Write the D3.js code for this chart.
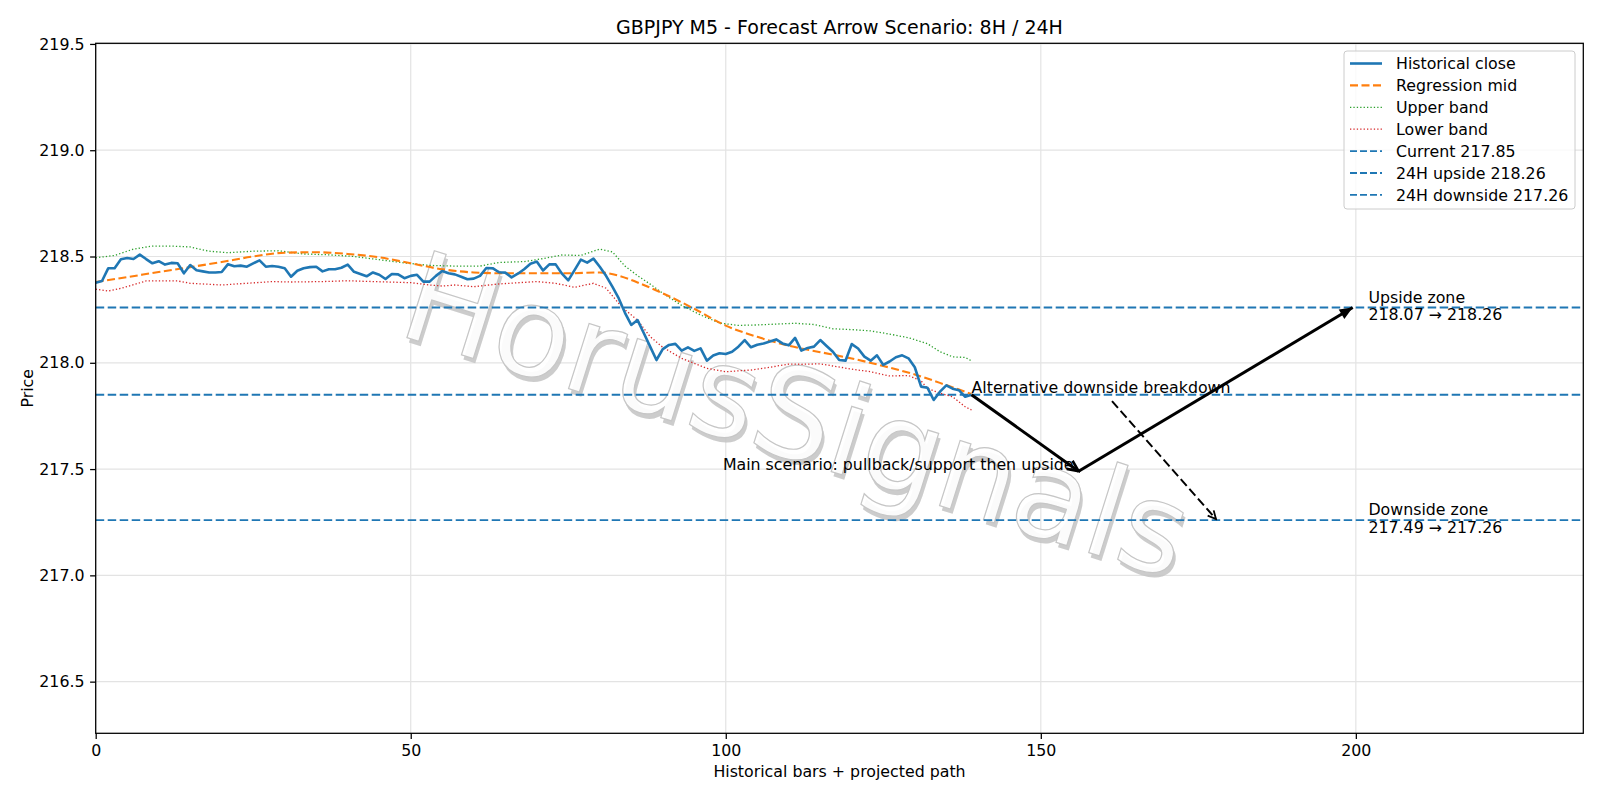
<!DOCTYPE html>
<html>
<head>
<meta charset="utf-8">
<script src="https://cdn.jsdelivr.net/npm/d3@7"></script>
<style>
  body { margin: 0; background: #fff; }
  text { font-family: "DejaVu Sans", sans-serif; }
</style>
</head>
<body>
<svg id="chart" width="1600" height="800"></svg>
<script>
// ---------------- DATA ----------------
const titleText = "GBPJPY M5 - Forecast Arrow Scenario: 8H / 24H";
const xLabel = "Historical bars + projected path";
const yLabel = "Price";

const closeValues = [
  218.377, 218.385, 218.445, 218.445, 218.487, 218.493, 218.488, 218.509, 218.488, 218.468,
  218.478, 218.462, 218.470, 218.468, 218.421, 218.460, 218.435, 218.430, 218.425, 218.425,
  218.427, 218.464, 218.454, 218.457, 218.452, 218.468, 218.482, 218.452, 218.455, 218.452,
  218.445, 218.405, 218.433, 218.445, 218.450, 218.452, 218.430, 218.440, 218.440, 218.447,
  218.462, 218.428, 218.418, 218.407, 218.425, 218.414, 218.394, 218.418, 218.416, 218.398,
  218.409, 218.414, 218.382, 218.382, 218.409, 218.432, 218.421, 218.416, 218.405, 218.393,
  218.396, 218.409, 218.446, 218.445, 218.426, 218.424, 218.402, 218.419, 218.440, 218.466,
  218.476, 218.434, 218.463, 218.463, 218.419, 218.388, 218.436, 218.485, 218.471, 218.490,
  218.452, 218.409, 218.358, 218.304, 218.235, 218.178, 218.201, 218.139, 218.076, 218.013,
  218.064, 218.084, 218.089, 218.057, 218.073, 218.056, 218.068, 218.010, 218.034, 218.045,
  218.041, 218.052, 218.076, 218.107, 218.073, 218.085, 218.091, 218.100, 218.110, 218.091,
  218.082, 218.117, 218.057, 218.070, 218.076, 218.107, 218.079, 218.052, 218.013, 218.010,
  218.088, 218.067, 218.029, 218.010, 218.035, 217.990, 218.006, 218.026, 218.035, 218.021,
  217.979, 217.888, 217.883, 217.825, 217.864, 217.894, 217.878, 217.871, 217.840, 217.850
];

const midBars = [0, 5, 10, 15, 20, 25, 30, 35, 40, 45, 50, 55, 60, 65, 70, 75, 80, 83, 86, 90, 95, 100, 105, 110, 115, 120, 125, 130, 135, 139];
const midValues = [218.380, 218.403, 218.427, 218.450, 218.474, 218.500, 218.518, 218.520, 218.512, 218.496,
  218.468, 218.440, 218.425, 218.421, 218.421, 218.421, 218.425, 218.410, 218.378, 218.327,
  218.254, 218.175, 218.122, 218.080, 218.050, 218.020, 217.985, 217.945, 217.895, 217.853];

const upperBars = [0, 3, 6, 9, 12, 15, 18, 21, 25, 29, 33, 37, 41, 45, 49, 53, 57, 61, 64, 68, 71, 74, 77, 80, 82, 84, 86, 88, 90, 93, 96, 99, 102, 105, 108, 111, 114, 117, 120, 123, 126, 129, 132, 134, 136, 138, 139];
const upperValues = [218.494, 218.505, 218.535, 218.549, 218.549, 218.545, 218.525, 218.518, 218.525, 218.527,
  218.512, 218.508, 218.500, 218.485, 218.470, 218.458, 218.455, 218.455, 218.472, 218.476,
  218.490, 218.507, 218.505, 218.535, 218.522, 218.455, 218.410, 218.370, 218.327, 218.270,
  218.225, 218.187, 218.176, 218.178, 218.182, 218.186, 218.180, 218.160, 218.156, 218.150,
  218.135, 218.118, 218.090, 218.052, 218.028, 218.025, 218.009];

const lowerBars = [0, 2, 4, 8, 13, 15, 20, 24, 28, 31, 36, 40, 44, 50, 53, 55, 57, 60, 64, 70, 73, 76, 79, 81, 83, 84, 86, 88, 90, 93, 97, 100, 104, 107, 110, 112, 115, 120, 123, 126, 129, 131, 132, 134, 136, 138, 139];
const lowerValues = [218.346, 218.338, 218.350, 218.385, 218.385, 218.374, 218.366, 218.374, 218.382, 218.380,
  218.382, 218.386, 218.382, 218.377, 218.366, 218.361, 218.366, 218.358, 218.371, 218.382,
  218.374, 218.355, 218.374, 218.351, 218.280, 218.250, 218.200, 218.123, 218.073, 218.021,
  217.974, 217.958, 217.966, 217.979, 217.994, 217.993, 217.995, 217.970, 217.958, 217.938,
  217.940, 217.915, 217.880, 217.857, 217.840, 217.793, 217.778];

const levelNames = ["Current 217.85", "24H upside 218.26", "24H downside 217.26"];
const levelValues = [217.85, 218.26, 217.26];

// projected scenario path (bar, price)
const mainPathBars = [139, 156, 199.5];
const mainPathPrices = [217.85, 217.49, 218.26];
const altPathBars = [161.3, 177.8];
const altPathPrices = [217.82, 217.265];

const mainLabel = "Main scenario: pullback/support then upside";
const mainLabelPos = [155.2, 217.49];
const altLabel = "Alternative downside breakdown";
const altLabelPos = [139, 217.85];
const zoneLabelBar = 202;
const upsideZoneLines = ["Upside zone", "218.07 \u2192 218.26"];
const downsideZoneLines = ["Downside zone", "217.49 \u2192 217.26"];

const xTicks = [0, 50, 100, 150, 200];
const yTicks = [216.5, 217.0, 217.5, 218.0, 218.5, 219.0, 219.5];
const xDomain = [0, 236.1];
const yDomain = [216.257, 219.503];

const legendLabels = ["Historical close", "Regression mid", "Upper band", "Lower band"].concat(levelNames);
const watermarkText = "HorusSignals";

// ---------------- LAYOUT ----------------
const C = { blue: "#1f77b4", orange: "#ff7f0e", green: "#2ca02c", red: "#d62728" };
const FS = 15.8;
const plot = { left: 95.7, right: 1583.3, top: 43.3, bottom: 733.3 };
const svg = d3.select("#chart");

const x = d3.scaleLinear().domain(xDomain).range([plot.left, plot.right]);
const y = d3.scaleLinear().domain(yDomain).range([plot.bottom, plot.top]);

const defs = svg.append("defs");
defs.append("clipPath").attr("id", "clip").append("rect")
  .attr("x", plot.left).attr("y", plot.top)
  .attr("width", plot.right - plot.left).attr("height", plot.bottom - plot.top);

defs.append("marker").attr("id", "openHead").attr("markerUnits", "userSpaceOnUse")
  .attr("viewBox", "-14 -8 16 16").attr("markerWidth", 16).attr("markerHeight", 16)
  .attr("refX", 0).attr("refY", 0).attr("orient", "auto")
  .append("path").attr("d", "M-11,-5 L0,0 L-11,5").attr("fill", "none")
  .attr("stroke", "#000").attr("stroke-width", 2.6);
defs.append("marker").attr("id", "openHeadSmall").attr("markerUnits", "userSpaceOnUse")
  .attr("viewBox", "-14 -8 16 16").attr("markerWidth", 16).attr("markerHeight", 16)
  .attr("refX", 0).attr("refY", 0).attr("orient", "auto")
  .append("path").attr("d", "M-8,-4 L0,0 L-8,4").attr("fill", "none")
  .attr("stroke", "#000").attr("stroke-width", 1.8);
defs.append("marker").attr("id", "fillHead").attr("markerUnits", "userSpaceOnUse")
  .attr("viewBox", "-16 -8 18 16").attr("markerWidth", 18).attr("markerHeight", 16)
  .attr("refX", 0).attr("refY", 0).attr("orient", "auto")
  .append("path").attr("d", "M-13,-5.5 L0,0 L-13,5.5 Z").attr("fill", "#000");

// grid
const grid = svg.append("g");
grid.selectAll(".gx").data(xTicks).join("line")
  .attr("x1", d => x(d)).attr("x2", d => x(d))
  .attr("y1", plot.top).attr("y2", plot.bottom)
  .attr("stroke", "#e3e3e3").attr("stroke-width", 1.2);
grid.selectAll(".gy").data(yTicks).join("line")
  .attr("x1", plot.left).attr("x2", plot.right)
  .attr("y1", d => y(d)).attr("y2", d => y(d))
  .attr("stroke", "#e3e3e3").attr("stroke-width", 1.2);

// watermark
const wm = svg.append("g").attr("transform", "translate(797,415) rotate(17.5)");
wm.append("text").text(watermarkText)
  .attr("x", 3.5).attr("y", 4)
  .attr("text-anchor", "middle").attr("dominant-baseline", "central")
  .attr("font-size", 125).attr("fill", "#c4c4c4").attr("opacity", 0.85);
wm.append("text").text(watermarkText)
  .attr("text-anchor", "middle").attr("dominant-baseline", "central")
  .attr("font-size", 125).attr("fill", "#ffffff").attr("fill-opacity", 0.92)
  .attr("stroke", "#c6c6c6").attr("stroke-width", 1.2);

const g = svg.append("g").attr("clip-path", "url(#clip)");

// horizontal levels
g.selectAll(".lvl").data(levelValues).join("line")
  .attr("x1", plot.left).attr("x2", plot.right)
  .attr("y1", d => y(d)).attr("y2", d => y(d))
  .attr("stroke", C.blue).attr("stroke-width", 1.9).attr("stroke-dasharray", "8.5,3.5");

// bands
const bandLine = d3.line().x(d => x(d[0])).y(d => y(d[1]));
g.append("path").datum(upperBars.map((b, i) => [b, upperValues[i]]))
  .attr("d", bandLine).attr("fill", "none").attr("stroke", C.green)
  .attr("stroke-width", 1.3).attr("stroke-dasharray", "1.3,2.1");
g.append("path").datum(lowerBars.map((b, i) => [b, lowerValues[i]]))
  .attr("d", bandLine).attr("fill", "none").attr("stroke", C.red)
  .attr("stroke-width", 1.3).attr("stroke-dasharray", "1.3,2.1");
g.append("path").datum(midBars.map((b, i) => [b, midValues[i]]))
  .attr("d", d3.line().x(d => x(d[0])).y(d => y(d[1])).curve(d3.curveMonotoneX))
  .attr("fill", "none").attr("stroke", C.orange)
  .attr("stroke-width", 2.1).attr("stroke-dasharray", "8,3.5");

// close
g.append("path").datum(closeValues)
  .attr("d", d3.line().x((d, i) => x(i)).y(d => y(d)))
  .attr("fill", "none").attr("stroke", C.blue).attr("stroke-width", 2.6)
  .attr("stroke-linejoin", "round");

// arrows
const ann = svg.append("g");
ann.append("line")
  .attr("x1", x(mainPathBars[0])).attr("y1", y(mainPathPrices[0]))
  .attr("x2", x(mainPathBars[1])).attr("y2", y(mainPathPrices[1]))
  .attr("stroke", "#000").attr("stroke-width", 3).attr("marker-end", "url(#openHead)");
ann.append("line")
  .attr("x1", x(mainPathBars[1])).attr("y1", y(mainPathPrices[1]))
  .attr("x2", x(mainPathBars[2])).attr("y2", y(mainPathPrices[2]))
  .attr("stroke", "#000").attr("stroke-width", 3).attr("marker-end", "url(#fillHead)");
ann.append("line")
  .attr("x1", x(altPathBars[0])).attr("y1", y(altPathPrices[0]))
  .attr("x2", x(altPathBars[1])).attr("y2", y(altPathPrices[1]))
  .attr("stroke", "#000").attr("stroke-width", 2).attr("stroke-dasharray", "9,4")
  .attr("marker-end", "url(#openHeadSmall)");

ann.append("text").text(mainLabel)
  .attr("x", x(mainLabelPos[0])).attr("y", y(mainLabelPos[1]) - 1.5)
  .attr("text-anchor", "end").attr("font-size", FS).attr("fill", "#000");
ann.append("text").text(altLabel)
  .attr("x", x(altLabelPos[0])).attr("y", y(altLabelPos[1]) - 1.5)
  .attr("text-anchor", "start").attr("font-size", FS).attr("fill", "#000");

function zoneLabel(lines, price) {
  const t = ann.append("text").attr("font-size", FS).attr("fill", "#000");
  lines.forEach((s, i) => {
    t.append("tspan").attr("x", x(zoneLabelBar)).attr("y", y(price) - 5 + i * 17.5).text(s);
  });
}
zoneLabel(upsideZoneLines, levelValues[1]);
zoneLabel(downsideZoneLines, levelValues[2]);

// frame
svg.append("rect").attr("x", plot.left).attr("y", plot.top)
  .attr("width", plot.right - plot.left).attr("height", plot.bottom - plot.top)
  .attr("fill", "none").attr("stroke", "#000").attr("stroke-width", 1.27);

// axes
const xAxis = svg.append("g").attr("transform", `translate(0,${plot.bottom})`)
  .call(d3.axisBottom(x).tickValues(xTicks).tickFormat(d3.format("d")).tickSize(5.6).tickPadding(5.6));
const yAxis = svg.append("g").attr("transform", `translate(${plot.left},0)`)
  .call(d3.axisLeft(y).tickValues(yTicks).tickFormat(d3.format(".1f")).tickSize(5.6).tickPadding(5.6));
[xAxis, yAxis].forEach(a => {
  a.select(".domain").remove();
  a.selectAll("line").attr("stroke", "#000").attr("stroke-width", 1.27);
  a.selectAll("text").attr("font-size", FS).attr("fill", "#000")
    .style("font-family", "'DejaVu Sans', sans-serif");
});

// titles
svg.append("text").text(titleText)
  .attr("x", (plot.left + plot.right) / 2).attr("y", 33.5)
  .attr("text-anchor", "middle").attr("font-size", 19).attr("fill", "#000");
svg.append("text").text(xLabel)
  .attr("x", (plot.left + plot.right) / 2).attr("y", 777)
  .attr("text-anchor", "middle").attr("font-size", FS).attr("fill", "#000");
svg.append("text").text(yLabel)
  .attr("transform", `translate(32.5,${(plot.top + plot.bottom) / 2}) rotate(-90)`)
  .attr("text-anchor", "middle").attr("font-size", FS).attr("fill", "#000");

// legend
const leg = svg.append("g");
leg.append("rect").attr("x", 1344).attr("y", 51).attr("width", 231).attr("height", 158)
  .attr("rx", 3).attr("fill", "#fff").attr("fill-opacity", 0.8)
  .attr("stroke", "#cccccc").attr("stroke-width", 1);
const legStyles = [
  { c: C.blue, w: 2.6, d: null },
  { c: C.orange, w: 2.1, d: "8,3.5" },
  { c: C.green, w: 1.3, d: "1.3,2.1" },
  { c: C.red, w: 1.3, d: "1.3,2.1" },
  { c: C.blue, w: 1.9, d: "7,3" },
  { c: C.blue, w: 1.9, d: "7,3" },
  { c: C.blue, w: 1.9, d: "7,3" }
];
legendLabels.forEach((lab, i) => {
  const cy = 63.5 + i * 21.9;
  const s = legStyles[i];
  const ln = leg.append("line").attr("x1", 1350).attr("x2", 1382)
    .attr("y1", cy).attr("y2", cy).attr("stroke", s.c).attr("stroke-width", s.w);
  if (s.d) ln.attr("stroke-dasharray", s.d);
  leg.append("text").text(lab).attr("x", 1396).attr("y", cy + 5.6)
    .attr("font-size", FS).attr("fill", "#000");
});
</script>
</body>
</html>
